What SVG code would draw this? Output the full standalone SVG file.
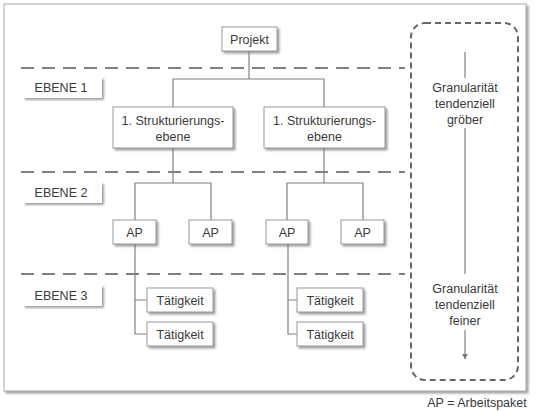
<svg xmlns="http://www.w3.org/2000/svg" width="538" height="411" viewBox="0 0 538 411">
<defs>
<filter id="sh" x="-20%" y="-20%" width="150%" height="160%">
<feDropShadow dx="2" dy="2" stdDeviation="1.2" flood-color="#777" flood-opacity="0.7"/>
</filter>
<marker id="ah" viewBox="0 0 10 10" refX="9" refY="5" markerWidth="6" markerHeight="6" orient="auto" markerUnits="userSpaceOnUse">
<path d="M0,0 L10,5 L0,10 z" fill="#777"/>
</marker>
</defs>
<style>
text{font-family:"Liberation Sans",Arial,sans-serif;font-size:12.5px;fill:#3a3a3a;text-anchor:middle}
.box{fill:#fff;stroke:#999;stroke-width:1;filter:url(#sh)}
.lvl{fill:#fff;stroke:none;filter:url(#sh)}
.con{stroke:#808080;stroke-width:1.2;fill:none}
.dash{stroke:#808080;stroke-width:2;stroke-dasharray:13 8;fill:none}
</style>
<rect x="4" y="4" width="522" height="387" fill="#fff" stroke="#aaa" stroke-width="1" filter="url(#sh)"/>
<g id="levels">
<line class="dash" x1="21" y1="68" x2="405" y2="68"/>
<line class="dash" x1="21" y1="172" x2="405" y2="172"/>
<line class="dash" x1="21" y1="274" x2="405" y2="274"/>
</g>
<g id="ebene1"><rect class="lvl" x="23" y="77" width="79" height="21"/><text x="61" y="92">EBENE 1</text></g>
<g id="ebene2"><rect class="lvl" x="23" y="182" width="79" height="21"/><text x="61" y="197">EBENE 2</text></g>
<g id="ebene3"><rect class="lvl" x="23" y="285" width="79" height="21"/><text x="61" y="300">EBENE 3</text></g>
<g id="connectors">
<path class="con" d="M249,51V79M173,107V79H324V107"/>
<path class="con" d="M173,148V183M135,220V183H211V220"/>
<path class="con" d="M324,148V183M287,220V183H363V220"/>
<path class="con" d="M135,244V334H147M135,300H147"/>
<path class="con" d="M288,244V334H297M288,300H297"/>
</g>
<g id="projekt"><rect class="box" x="222" y="27" width="55" height="24"/><text x="249.5" y="43.5">Projekt</text></g>
<g id="struktur1"><rect class="box" x="113" y="107" width="120" height="41"/><text x="173" y="125">1. Strukturierungs-</text><text x="173" y="141">ebene</text></g>
<g id="struktur2"><rect class="box" x="264" y="107" width="121" height="41"/><text x="324.5" y="125">1. Strukturierungs-</text><text x="324.5" y="141">ebene</text></g>
<g id="ap1"><rect class="box" x="113" y="220" width="43" height="24"/><text x="134.5" y="236.5">AP</text></g>
<g id="ap2"><rect class="box" x="189" y="220" width="43" height="24"/><text x="210.5" y="236.5">AP</text></g>
<g id="ap3"><rect class="box" x="266" y="220" width="42" height="24"/><text x="287" y="236.5">AP</text></g>
<g id="ap4"><rect class="box" x="341" y="220" width="43" height="24"/><text x="362.5" y="236.5">AP</text></g>
<g id="t1"><rect class="box" x="147" y="288" width="66" height="24"/><text x="180" y="304.5">Tätigkeit</text></g>
<g id="t2"><rect class="box" x="147" y="322" width="66" height="24"/><text x="180" y="338.5">Tätigkeit</text></g>
<g id="t3"><rect class="box" x="297" y="288" width="66" height="24"/><text x="330" y="304.5">Tätigkeit</text></g>
<g id="t4"><rect class="box" x="297" y="322" width="66" height="24"/><text x="330" y="338.5">Tätigkeit</text></g>
<g id="granularity">
<rect x="411" y="23" width="107" height="357" rx="14" fill="none" stroke="#666" stroke-width="2" stroke-dasharray="6 4"/>
<line class="con" x1="465" y1="52" x2="465" y2="78"/>
<text x="465" y="92">Granularität</text>
<text x="465" y="108">tendenziell</text>
<text x="465" y="124">gröber</text>
<line class="con" x1="465" y1="128" x2="465" y2="274"/>
<text x="465" y="293">Granularität</text>
<text x="465" y="309">tendenziell</text>
<text x="465" y="325">feiner</text>
<line class="con" x1="465" y1="330" x2="465" y2="359" marker-end="url(#ah)"/>
</g>
<text x="477" y="407">AP = Arbeitspaket</text>
</svg>
